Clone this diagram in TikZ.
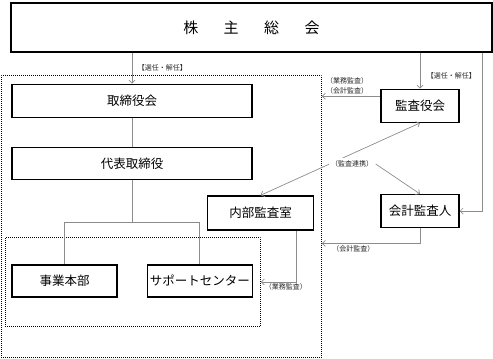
\documentclass[tikz,border=0pt]{standalone}
\usepackage{fontspec}
\setmainfont{Noto Sans CJK JP}
\usetikzlibrary{arrows.meta, positioning}
\tikzset{
  orgbox/.style={rectangle, draw=black, line width=1.3pt, fill=white,
    inner sep=0pt, font=\fontsize{12.5}{15}\selectfont},
  dotbox/.style={rectangle, draw=black, line width=0.9pt,
    dash pattern=on 0.9pt off 1.1pt, inner sep=0pt, anchor=north west},
  conn/.style={draw=gray!90, line width=0.7pt},
  arrow/.style={conn, -{Straight Barb[length=3pt,width=6pt]}},
  lab/.style={font=\fontsize{7}{10}\selectfont, text=black!85, inner sep=1.5pt}
}

\begin{document}
\begin{tikzpicture}[x=1pt, y=-1pt]
    \useasboundingbox (0,0) rectangle (493,359);
    \node[orgbox, minimum width=481pt, minimum height=49pt,
      font=\fontsize{15}{18}\selectfont] (soukai) at (251.5,27.5)
      {株\hspace{1.7em}主\hspace{1.7em}総\hspace{1.7em}会};
    \node[orgbox, minimum width=240pt, minimum height=33pt,
      below right=31pt and 1pt of soukai.south west] (torishimari) {取締役会};
    \node[orgbox, minimum width=240pt, minimum height=32pt,
      below=29pt of torishimari] (daihyo) {代表取締役};
    \node[orgbox, minimum width=105pt, minimum height=32pt,
      below right=84pt and 0pt of daihyo.south west] (jigyo) {事業本部};
    \node[orgbox, minimum width=105pt, minimum height=32pt,
      right=29pt of jigyo] (support) {サポートセンター};
    \node[orgbox, minimum width=106pt, minimum height=34pt,
      below=15pt of daihyo.south east, xshift=8pt] (naibu) {内部監査室};
    \node[orgbox, minimum width=78pt, minimum height=33pt,
      below left=36pt and 33pt of soukai.south east] (kansayaku) {監査役会};
    \node[orgbox, minimum width=78pt, minimum height=33pt,
      below=71pt of kansayaku] (kaikei) {会計監査人};
    % dotted groups
    \node[dotbox, minimum width=320pt, minimum height=282pt] (outer) at (1,75) {};
    \node[dotbox, minimum width=255pt, minimum height=89pt] (inner) at (5,237) {};
    % connectors
    \draw[arrow] (soukai.south -| torishimari.north) --
      node[lab, right=4pt] {【選任・解任】} (torishimari.north);
    \draw[arrow] (soukai.south -| kansayaku.north) --
      node[lab, right=5pt, pos=0.65] {【選任・解任】} (kansayaku.north);
    \draw[arrow] ([xshift=-10pt]soukai.south east) |- (kaikei.east);
    \draw[arrow] ([yshift=9.5pt]kansayaku.west) --
      node[lab, above, align=center, xshift=-4pt] {（業務監査）\\（会計監査）}
      ([yshift=9.5pt]kansayaku.west -| outer.east);
    \draw[arrow] (kaikei.south) |-
      node[lab, below, pos=0.84] {（会計監査）} ([yshift=-27pt]outer.east);
    \draw[arrow] ([xshift=36pt]naibu.south) |-
      node[lab, below, pos=0.65] {（業務監査）} (inner.east);
    \draw[conn] (torishimari) -- (daihyo);
    \coordinate[below=42pt of daihyo.south] (split);
    \draw[conn] (daihyo) -- (split);
    \draw[conn] (jigyo.north) |- (split) -| (support.north);
    % audit cooperation
    \draw[conn, {Straight Barb[length=3pt,width=6pt]}-{Straight Barb[length=3pt,width=6pt]}]
      (naibu.north) -- (kansayaku.south);
    \node[lab, fill=white, inner sep=2.5pt] (renkei) at (352,164) {（監査連携）};
    \draw[arrow] (renkei.east) -- (kaikei.north);
\end{tikzpicture}
\end{document}
